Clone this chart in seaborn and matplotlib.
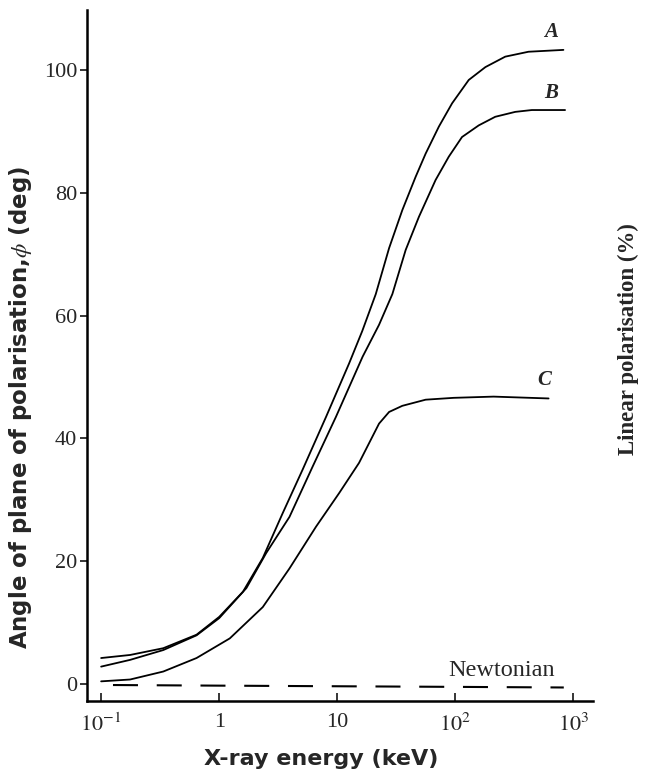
import numpy as np
import pandas as pd
import matplotlib
matplotlib.use("Agg")
import matplotlib.pyplot as plt
import seaborn as sns

# ---- data ----
energy_A = [0.1, 0.176, 0.336, 0.643, 1.0, 1.59, 2.34, 3.45, 5.09, 8.04, 12.6, 16.3, 21.2,
            27.5, 35.6, 46.1, 56.1, 72.6, 94.0, 130, 180, 265, 417, 824]
phi_A    = [4.2, 4.7, 5.8, 8.0, 10.9, 15.0, 20.5, 27.8, 34.9, 43.5, 52.2, 57.5, 63.5,
            71.0, 77.2, 82.6, 86.4, 90.8, 94.6, 98.4, 100.5, 102.2, 103.0, 103.3]

energy_B = [0.1, 0.176, 0.336, 0.643, 1.0, 1.70, 2.50, 3.94, 6.19, 9.75, 16.4, 22.6, 29.3,
            38.0, 49.2, 68.1, 88.1, 114, 158, 218, 322, 445, 851]
phi_B    = [2.8, 3.9, 5.5, 7.9, 10.7, 15.6, 21.3, 27.2, 35.4, 43.5, 53.3, 58.5, 63.5,
            70.7, 76.1, 82.1, 85.9, 89.1, 91.0, 92.4, 93.2, 93.5, 93.5]

energy_C = [0.1, 0.176, 0.336, 0.643, 1.23, 2.34, 3.94, 6.61, 10.4, 15.3, 22.6, 27.5, 35.6,
            56.1, 96.8, 211, 617]
phi_C    = [0.4, 0.7, 2.0, 4.2, 7.4, 12.5, 18.8, 25.6, 31.1, 36.0, 42.4, 44.3, 45.3,
            46.3, 46.6, 46.8, 46.5]

energy_N = [0.126, 1.0, 10, 100, 830]
phi_N    = [-0.2, -0.3, -0.4, -0.5, -0.6]

xtick_vals = [0.1, 1, 10, 100, 1000]
xtick_labels = [r"$10^{-1}$", "1", "10", r"$10^{2}$", r"$10^{3}$"]
ytick_vals = [0, 20, 40, 60, 80, 100]

curve_labels = {"A": (740, 104.6), "B": (740, 94.6), "C": (650, 47.9)}

# ---- style ----
sns.set_theme(style="ticks")
plt.rcParams["font.family"] = ["Liberation Serif", "DejaVu Serif"]
plt.rcParams["mathtext.fontset"] = "stix"

fig = plt.figure(figsize=(6.69, 7.82), dpi=100)
ax = fig.add_axes([0.130, 0.1036, 0.757, 0.8836])

lw = 1.3
for e, p in [(energy_A, phi_A), (energy_B, phi_B), (energy_C, phi_C)]:
    df = pd.DataFrame({"E": e, "phi": p})
    sns.lineplot(data=df, x="E", y="phi", ax=ax, color="black", lw=lw,
                 estimator=None, sort=False)

dfN = pd.DataFrame({"E": energy_N, "phi": phi_N})
sns.lineplot(data=dfN, x="E", y="phi", ax=ax, color="black", lw=1.5,
             estimator=None, sort=False, linestyle=(0, (12, 9)))

ax.set_xscale("log")
ax.set_xlim(10 ** -1.12, 10 ** 3.17)
ax.set_ylim(-2.8, 109.8)

ax.set_xticks(xtick_vals)
ax.set_xticklabels(xtick_labels)
ax.xaxis.set_minor_locator(matplotlib.ticker.NullLocator())
ax.set_yticks(ytick_vals)
ax.tick_params(axis="x", direction="in", length=6, width=1.3, labelsize=16, pad=9)
ax.tick_params(axis="y", direction="out", length=5, width=1.3, labelsize=16, pad=2)

for s in ["top", "right"]:
    ax.spines[s].set_visible(False)
for s in ["left", "bottom"]:
    ax.spines[s].set_linewidth(1.8)
    ax.spines[s].set_color("black")

ax.set_xlabel("X-ray energy (keV)", fontsize=16, fontweight="bold",
              family=["DejaVu Sans"])
ax.xaxis.set_label_coords(0.462, -0.07)
ax.set_ylabel("Angle of plane of polarisation,$\\phi$ (deg)", fontsize=16.5,
              fontweight="bold", family=["DejaVu Sans"])
ax.yaxis.set_label_coords(-0.105, 0.424)

for name, (x, y) in curve_labels.items():
    ax.text(x, y, name, fontsize=15, style="italic", fontweight="bold",
            ha="right", va="bottom")

ax.text(245, 0.5, "Newtonian", fontsize=17.5, ha="center", va="bottom")

fig.text(0.939, 0.566, "Linear polarisation (%)", rotation=90, fontsize=16.5,
         fontweight="bold", ha="center", va="center")

fig.savefig("out.png", dpi=100)
